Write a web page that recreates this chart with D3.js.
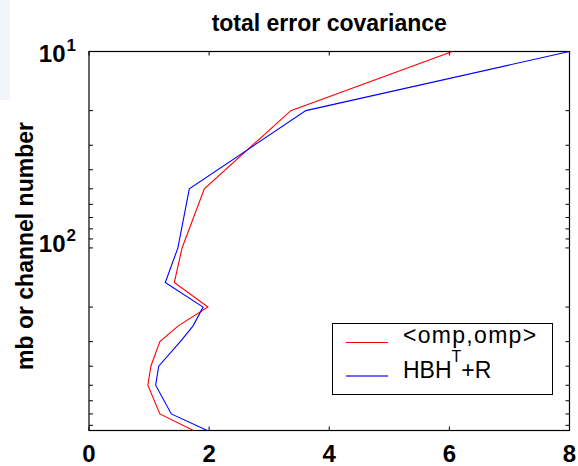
<!DOCTYPE html>
<html>
<head>
<meta charset="utf-8">
<script src="https://cdn.jsdelivr.net/npm/d3@7"></script>
<style>
  html, body { margin: 0; padding: 0; background: #fff; }
  svg { display: block; font-family: "Liberation Sans", Arial, sans-serif; }
</style>
</head>
<body>
<svg id="chart" width="578" height="466"></svg>
<script>
// Pressure levels (mb) shared by both profiles
const levels = [10, 20, 50, 100, 150, 200, 250, 300, 400, 500, 700, 850];
// <omp,omp> : observed-minus-predicted covariance
const ompValues = [6.05, 3.36, 1.92, 1.55, 1.42, 1.98, 1.48, 1.18, 1.03, 0.98, 1.18, 1.74];
// HBH^T + R : modelled total error covariance
const hbhrValues = [8.0, 3.61, 1.67, 1.48, 1.27, 1.90, 1.73, 1.52, 1.16, 1.11, 1.37, 1.97];
const xTicks = [0, 2, 4, 6, 8];
const yMajor = [10, 100];
const yMinor = [20, 30, 40, 50, 60, 70, 80, 90, 200, 300, 400, 500, 600, 700, 800];

const svg = d3.select("#chart");
const plotL = 89, plotR = 569.5, plotT = 51.5, plotB = 430.5;

const x = d3.scaleLinear().domain([0, 8]).range([plotL, plotR]);
const y = d3.scaleLog().domain([10, 850]).range([plotT, plotB]);

// faint window-edge panel at the upper left
svg.append("rect").attr("x", 0).attr("y", 0).attr("width", 10).attr("height", 100)
  .attr("fill", "#f2f6fa");

// axes box
svg.append("rect")
  .attr("x", plotL).attr("y", plotT)
  .attr("width", plotR - plotL).attr("height", plotB - plotT)
  .attr("fill", "none").attr("stroke", "#000").attr("stroke-width", 1.2);

const tickLen = 4;
const ticks = svg.append("g").attr("stroke", "#000").attr("stroke-width", 1);
xTicks.forEach(v => {
  ticks.append("line").attr("x1", x(v)).attr("x2", x(v)).attr("y1", plotB).attr("y2", plotB - tickLen);
  ticks.append("line").attr("x1", x(v)).attr("x2", x(v)).attr("y1", plotT).attr("y2", plotT + tickLen);
});
yMajor.concat(yMinor).forEach(v => {
  ticks.append("line").attr("x1", plotL).attr("x2", plotL + tickLen).attr("y1", y(v)).attr("y2", y(v));
  ticks.append("line").attr("x1", plotR).attr("x2", plotR - tickLen).attr("y1", y(v)).attr("y2", y(v));
});

// x tick labels
svg.append("g").selectAll("text").data(xTicks).join("text")
  .attr("x", d => x(d)).attr("y", 462)
  .attr("text-anchor", "middle")
  .attr("font-size", 24).attr("font-weight", "bold")
  .text(d => d);

// y tick labels: powers of ten (the top one is kept inside the figure)
svg.append("g").selectAll("text").data(yMajor).join("text")
  .attr("x", 76).attr("y", d => Math.max(y(d) + 4.5, 62))
  .attr("text-anchor", "end")
  .attr("font-size", 24).attr("font-weight", "bold")
  .each(function(d) {
    const t = d3.select(this);
    t.append("tspan").text("10");
    t.append("tspan").attr("dx", 1).attr("dy", -11).attr("font-size", 17).text(Math.round(Math.log10(d)));
  });

// title
svg.append("text")
  .attr("x", (plotL + plotR) / 2).attr("y", 31)
  .attr("text-anchor", "middle")
  .attr("font-size", 23).attr("font-weight", "bold")
  .text("total error covariance");

// y axis label
svg.append("text")
  .attr("transform", `translate(33,${(plotT + plotB) / 2 + 5}) rotate(-90)`)
  .attr("text-anchor", "middle")
  .attr("font-size", 23).attr("font-weight", "bold")
  .text("mb or channel number");

// profiles
const line = vals => d3.line()
  .x((d, i) => x(vals[i]))
  .y(d => y(d));

svg.append("path").datum(levels)
  .attr("d", line(ompValues))
  .attr("fill", "none").attr("stroke", "#ff0000").attr("stroke-width", 1.1);
svg.append("path").datum(levels)
  .attr("d", line(hbhrValues))
  .attr("fill", "none").attr("stroke", "#0000ff").attr("stroke-width", 1.1);

// legend
const lg = svg.append("g");
lg.append("rect")
  .attr("x", 332.5).attr("y", 323.5).attr("width", 220).attr("height", 71)
  .attr("fill", "#fff").attr("stroke", "#000").attr("stroke-width", 1);
lg.append("line").attr("x1", 346).attr("x2", 388).attr("y1", 342.5).attr("y2", 342.5)
  .attr("stroke", "#ff0000").attr("stroke-width", 1.1);
lg.append("line").attr("x1", 346).attr("x2", 388).attr("y1", 376).attr("y2", 376)
  .attr("stroke", "#3a3aff").attr("stroke-width", 1.4);
lg.append("text").attr("x", 403).attr("y", 343)
  .attr("font-size", 23).attr("letter-spacing", 1.3).text("<omp,omp>");
const t2 = lg.append("text").attr("x", 403).attr("y", 377.5).attr("font-size", 23);
t2.append("tspan").text("HBH");
t2.append("tspan").attr("dy", -15.5).attr("font-size", 16).text("T");
t2.append("tspan").attr("dy", 15.5).text("+R");
</script>
</body>
</html>
